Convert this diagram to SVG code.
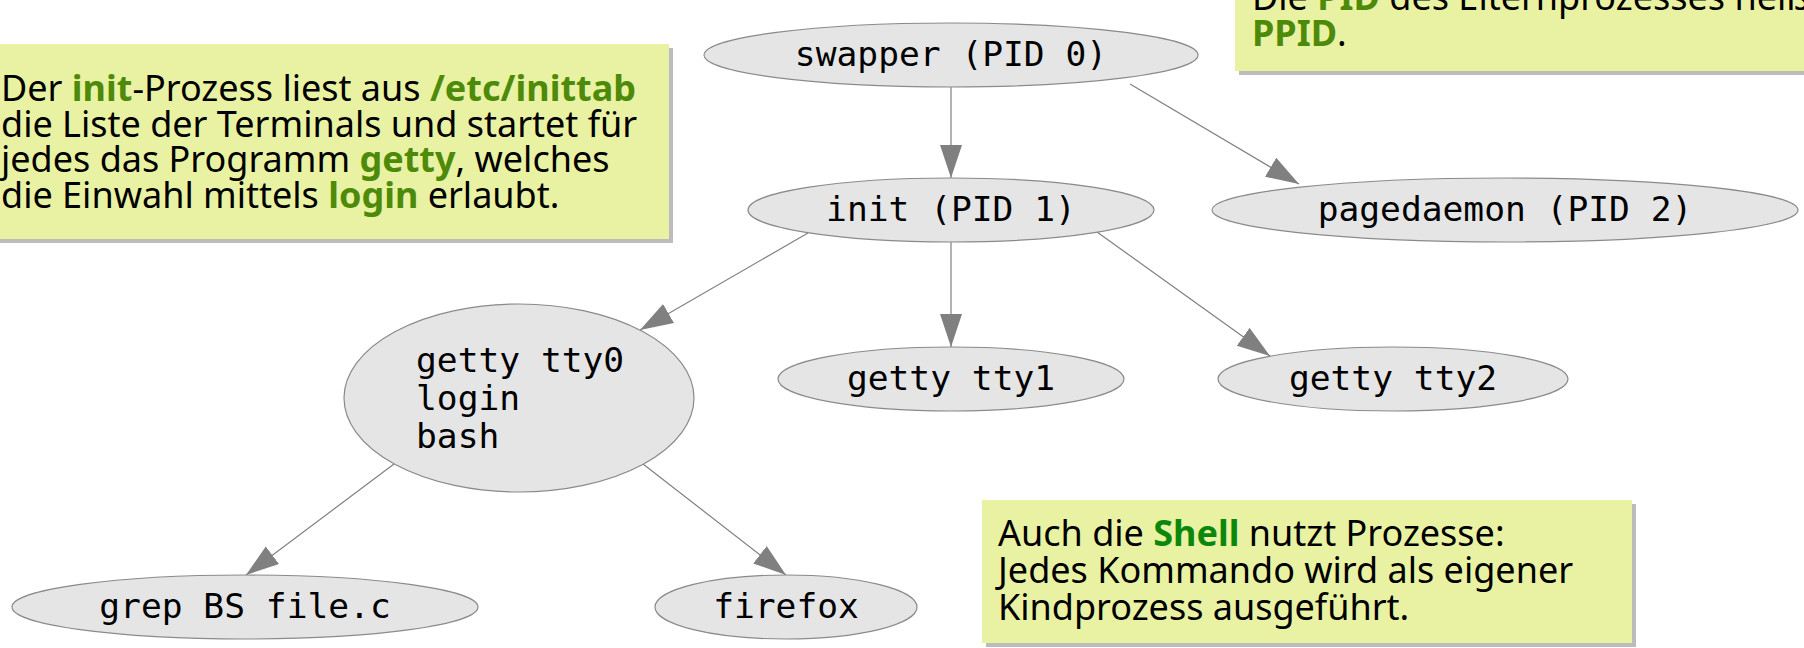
<svg xmlns="http://www.w3.org/2000/svg" width="1804" height="648" viewBox="0 0 1804 648">
<style>
.node ellipse{fill:#e5e5e5;stroke:#8a8a8a;stroke-width:1.2}
.node text{font-family:"DejaVu Sans Mono","Liberation Mono",monospace;font-size:34.6px;fill:#000}
.edge{stroke:#808080;stroke-width:1.2;fill:none;marker-end:url(#arr)}
.note rect.bg{fill:#e9f2a3}
.note rect.sh{fill:#bcbcbc}
.note text{font-family:"Noto Sans","Open Sans",sans-serif;font-size:36px;fill:#000}
.g{fill:#4e8a0a;font-weight:bold}
.g2{fill:#0b870b;font-weight:bold}
</style>
<defs>
<marker id="arr" markerUnits="userSpaceOnUse" markerWidth="34" markerHeight="24" refX="33" refY="11" orient="auto" viewBox="0 0 34 24">
<path d="M0,0 L33,11 L0,22 z" fill="#808080"/>
</marker>
</defs>
<rect width="1804" height="648" fill="#fff"/>

<g id="connectors">
<line class="edge" x1="951" y1="87" x2="951" y2="178"/>
<line class="edge" x1="1130" y1="84" x2="1299" y2="184"/>
<line class="edge" x1="808" y1="233" x2="640" y2="330"/>
<line class="edge" x1="951" y1="242" x2="951" y2="347"/>
<line class="edge" x1="1097" y1="232" x2="1270" y2="356"/>
<line class="edge" x1="394" y1="464" x2="246" y2="575"/>
<line class="edge" x1="643" y1="464" x2="786" y2="575"/>
</g>

<g id="swapper" class="node">
<ellipse cx="951" cy="55" rx="247" ry="32"/>
<text x="951" y="66" text-anchor="middle">swapper (PID 0)</text>
</g>
<g id="init" class="node">
<ellipse cx="951" cy="210" rx="203" ry="32"/>
<text x="951" y="221" text-anchor="middle">init (PID 1)</text>
</g>
<g id="pagedaemon" class="node">
<ellipse cx="1505" cy="210" rx="293" ry="32"/>
<text x="1505" y="221" text-anchor="middle">pagedaemon (PID 2)</text>
</g>
<g id="tty0" class="node">
<ellipse cx="519" cy="398" rx="175" ry="94"/>
<text x="416" y="372">getty tty0</text>
<text x="416" y="410">login</text>
<text x="416" y="448">bash</text>
</g>
<g id="tty1" class="node">
<ellipse cx="951" cy="379" rx="173" ry="32"/>
<text x="951" y="390" text-anchor="middle">getty tty1</text>
</g>
<g id="tty2" class="node">
<ellipse cx="1393" cy="379" rx="175" ry="32"/>
<text x="1393" y="390" text-anchor="middle">getty tty2</text>
</g>
<g id="grep" class="node">
<ellipse cx="245" cy="607" rx="233" ry="32"/>
<text x="245" y="618" text-anchor="middle">grep BS file.c</text>
</g>
<g id="firefox" class="node">
<ellipse cx="786" cy="607" rx="131" ry="32"/>
<text x="786" y="618" text-anchor="middle">firefox</text>
</g>

<g id="note-init" class="note">
<rect class="sh" x="-16" y="48" width="689" height="195"/>
<rect class="bg" x="-20" y="44" width="689" height="195"/>
<text x="1" y="101">Der <tspan class="g">init</tspan>-Prozess liest aus <tspan class="g">/etc/inittab</tspan></text>
<text x="1" y="137">die Liste der Terminals und startet für</text>
<text x="1" y="172">jedes das Programm <tspan class="g">getty</tspan>, welches</text>
<text x="1" y="208">die Einwahl mittels <tspan class="g">login</tspan> erlaubt.</text>
</g>

<g id="note-ppid" class="note">
<rect class="sh" x="1239" y="-16" width="600" height="91"/>
<rect class="bg" x="1235" y="-20" width="600" height="91"/>
<text x="1252" y="10">Die <tspan class="g">PID</tspan> des Elternprozesses heißt</text>
<text x="1252" y="46"><tspan class="g">PPID</tspan>.</text>
</g>

<g id="note-shell" class="note">
<rect class="sh" x="986" y="504" width="650" height="143"/>
<rect class="bg" x="982" y="500" width="650" height="143"/>
<text x="998" y="546">Auch die <tspan class="g2">Shell</tspan> nutzt Prozesse:</text>
<text x="998" y="583">Jedes Kommando wird als eigener</text>
<text x="998" y="620">Kindprozess ausgeführt.</text>
</g>
</svg>
